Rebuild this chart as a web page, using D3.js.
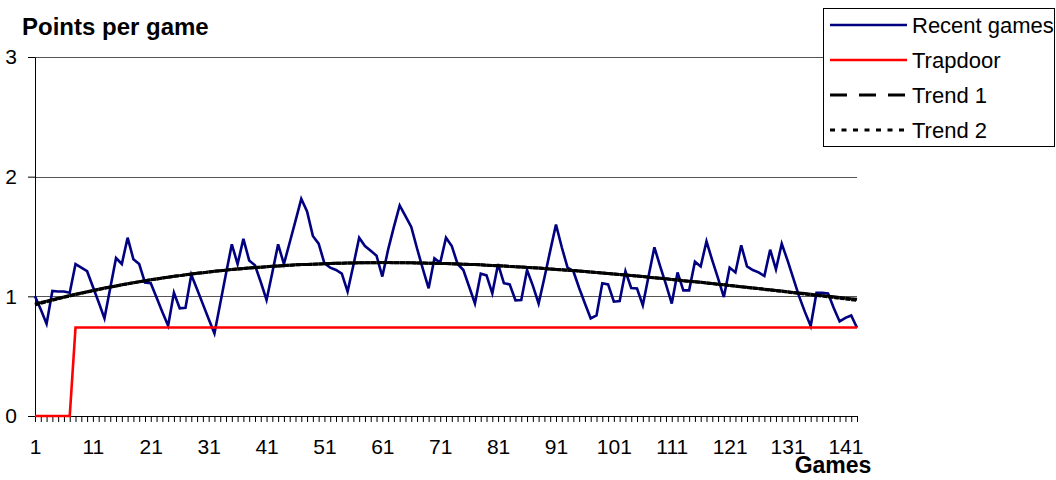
<!DOCTYPE html>
<html>
<head>
<meta charset="utf-8">
<script src="https://cdn.jsdelivr.net/npm/d3@7"></script>
<style>
  body { margin: 0; background: #fff; }
</style>
</head>
<body>
<div id="chart"></div>
<script>
// points per game, one value per game
var recentGames = [
  1.00, 0.89, 0.77, 1.045, 1.04, 1.04, 1.03, 1.27, 1.24, 1.21,
  1.08, 0.95, 0.816, 1.07, 1.32, 1.27, 1.49, 1.31, 1.27, 1.115,
  1.11, 0.99, 0.87, 0.755, 1.03, 0.90, 0.905, 1.18, 1.06, 0.935,
  0.81, 0.69, 0.94, 1.19, 1.435, 1.27, 1.48, 1.30, 1.26, 1.12,
  0.97, 1.20, 1.435, 1.27, 1.45, 1.63, 1.815, 1.71, 1.505, 1.44,
  1.276, 1.24, 1.22, 1.19, 1.04, 1.26, 1.49, 1.42, 1.38, 1.34,
  1.165, 1.39, 1.58, 1.76, 1.67, 1.58, 1.40, 1.23, 1.067, 1.318,
  1.28, 1.49, 1.42, 1.27, 1.22, 1.08, 0.94, 1.19, 1.175, 1.025,
  1.27, 1.11, 1.10, 0.967, 0.97, 1.22, 1.09, 0.94, 1.155, 1.38,
  1.60, 1.41, 1.24, 1.21, 1.07, 0.94, 0.816, 0.84, 1.11, 1.10,
  0.955, 0.96, 1.21, 1.07, 1.065, 0.925, 1.17, 1.41, 1.25, 1.10,
  0.94, 1.20, 1.05, 1.05, 1.29, 1.25, 1.46, 1.30, 1.15, 0.994,
  1.24, 1.20, 1.427, 1.25, 1.22, 1.20, 1.17, 1.39, 1.226, 1.44,
  1.30, 1.15, 1.00, 0.87, 0.752, 1.03, 1.03, 1.025, 0.90, 0.79,
  0.82, 0.84, 0.737
];

var trapdoor = [
  0, 0, 0, 0, 0, 0, 0, 0.74, 0.74, 0.74,
  0.74, 0.74, 0.74, 0.74, 0.74, 0.74, 0.74, 0.74, 0.74, 0.74,
  0.74, 0.74, 0.74, 0.74, 0.74, 0.74, 0.74, 0.74, 0.74, 0.74,
  0.74, 0.74, 0.74, 0.74, 0.74, 0.74, 0.74, 0.74, 0.74, 0.74,
  0.74, 0.74, 0.74, 0.74, 0.74, 0.74, 0.74, 0.74, 0.74, 0.74,
  0.74, 0.74, 0.74, 0.74, 0.74, 0.74, 0.74, 0.74, 0.74, 0.74,
  0.74, 0.74, 0.74, 0.74, 0.74, 0.74, 0.74, 0.74, 0.74, 0.74,
  0.74, 0.74, 0.74, 0.74, 0.74, 0.74, 0.74, 0.74, 0.74, 0.74,
  0.74, 0.74, 0.74, 0.74, 0.74, 0.74, 0.74, 0.74, 0.74, 0.74,
  0.74, 0.74, 0.74, 0.74, 0.74, 0.74, 0.74, 0.74, 0.74, 0.74,
  0.74, 0.74, 0.74, 0.74, 0.74, 0.74, 0.74, 0.74, 0.74, 0.74,
  0.74, 0.74, 0.74, 0.74, 0.74, 0.74, 0.74, 0.74, 0.74, 0.74,
  0.74, 0.74, 0.74, 0.74, 0.74, 0.74, 0.74, 0.74, 0.74, 0.74,
  0.74, 0.74, 0.74, 0.74, 0.74, 0.74, 0.74, 0.74, 0.74, 0.74,
  0.74, 0.74, 0.74
];

var trend1 = [
  0.935, 0.948, 0.960, 0.972, 0.984, 0.995, 1.007, 1.018, 1.028, 1.039,
  1.049, 1.059, 1.069, 1.078, 1.087, 1.096, 1.105, 1.114, 1.122, 1.130,
  1.138, 1.145, 1.153, 1.160, 1.167, 1.173, 1.180, 1.186, 1.192, 1.198,
  1.203, 1.209, 1.214, 1.219, 1.224, 1.228, 1.232, 1.237, 1.240, 1.244,
  1.248, 1.251, 1.254, 1.257, 1.260, 1.263, 1.265, 1.267, 1.269, 1.271,
  1.273, 1.275, 1.276, 1.277, 1.278, 1.279, 1.280, 1.281, 1.281, 1.281,
  1.282, 1.282, 1.281, 1.281, 1.281, 1.280, 1.279, 1.278, 1.277, 1.276,
  1.275, 1.274, 1.272, 1.270, 1.269, 1.267, 1.265, 1.263, 1.260, 1.258,
  1.256, 1.253, 1.250, 1.248, 1.245, 1.242, 1.239, 1.236, 1.232, 1.229,
  1.225, 1.222, 1.218, 1.215, 1.211, 1.207, 1.203, 1.199, 1.195, 1.191,
  1.187, 1.182, 1.178, 1.174, 1.169, 1.165, 1.160, 1.155, 1.151, 1.146,
  1.141, 1.136, 1.131, 1.126, 1.122, 1.117, 1.112, 1.107, 1.101, 1.096,
  1.091, 1.086, 1.081, 1.075, 1.070, 1.065, 1.060, 1.055, 1.049, 1.044,
  1.039, 1.033, 1.028, 1.023, 1.017, 1.012, 1.007, 1.001, 0.996, 0.991,
  0.985, 0.980, 0.975
];

var trend2 = [
  0.928, 0.942, 0.955, 0.967, 0.979, 0.991, 1.003, 1.015, 1.025, 1.036,
  1.047, 1.057, 1.067, 1.077, 1.086, 1.096, 1.105, 1.114, 1.122, 1.130,
  1.138, 1.145, 1.153, 1.160, 1.167, 1.173, 1.180, 1.186, 1.192, 1.198,
  1.203, 1.209, 1.214, 1.219, 1.224, 1.228, 1.232, 1.237, 1.240, 1.244,
  1.248, 1.251, 1.254, 1.257, 1.260, 1.263, 1.265, 1.267, 1.269, 1.271,
  1.273, 1.275, 1.276, 1.277, 1.278, 1.279, 1.280, 1.281, 1.281, 1.281,
  1.282, 1.282, 1.281, 1.281, 1.281, 1.280, 1.279, 1.278, 1.277, 1.276,
  1.275, 1.274, 1.272, 1.270, 1.269, 1.267, 1.265, 1.263, 1.260, 1.258,
  1.256, 1.253, 1.250, 1.248, 1.245, 1.242, 1.239, 1.236, 1.232, 1.229,
  1.225, 1.222, 1.218, 1.215, 1.211, 1.207, 1.203, 1.199, 1.195, 1.191,
  1.187, 1.182, 1.178, 1.174, 1.169, 1.165, 1.160, 1.155, 1.151, 1.146,
  1.141, 1.136, 1.131, 1.126, 1.122, 1.117, 1.112, 1.107, 1.101, 1.096,
  1.090, 1.085, 1.080, 1.074, 1.069, 1.064, 1.058, 1.053, 1.047, 1.042,
  1.036, 1.030, 1.025, 1.019, 1.013, 1.007, 1.002, 0.996, 0.990, 0.984,
  0.978, 0.972, 0.966
];

var games = d3.range(1, recentGames.length + 1);
var xTickLabels = [1, 11, 21, 31, 41, 51, 61, 71, 81, 91, 101, 111, 121, 131, 141];
var yTicks = [0, 1, 2, 3];
var seriesNames = ["Recent games", "Trapdoor", "Trend 1", "Trend 2"];

var font = "'Liberation Sans', Arial, sans-serif";

var svg = d3.select('#chart').append('svg')
  .attr('width', 1056)
  .attr('height', 480)
  .attr('font-family', font);

var x = d3.scaleLinear()
  .domain([1, games.length])
  .range([35, 857]);

var y = d3.scaleLinear()
  .domain([0, 3])
  .range([416, 57]);

// gridlines
svg.append("g")
  .selectAll("line")
  .data(yTicks.slice(1))
  .join("line")
  .attr("x1", x(1))
  .attr("x2", x(games.length))
  .attr("y1", d => Math.round(y(d)) + 0.5)
  .attr("y2", d => Math.round(y(d)) + 0.5)
  .attr("stroke", "#555")
  .attr("stroke-width", 1);

// axes
var xAxis = g => g
  .attr("transform", `translate(0,${y(0)})`)
  .call(d3.axisBottom(x)
    .tickValues(games)
    .tickSize(6)
    .tickSizeOuter(0)
    .tickPadding(17)
    .tickFormat(d => xTickLabels.includes(d) ? d : ""))
  .call(g => g.selectAll("line").attr("stroke", "#000"))
  .call(g => g.select(".domain").attr("stroke", "#000"))
  .call(g => g.selectAll(".tick text")
    .attr("fill", "#000")
    .attr("font-family", font)
    .attr("font-size", "21px"));

var yAxis = g => g
  .attr("transform", `translate(${x(1)},0)`)
  .call(d3.axisLeft(y)
    .tickValues(yTicks)
    .tickSize(7)
    .tickSizeOuter(0)
    .tickPadding(11)
    .tickFormat(d3.format("d")))
  .call(g => g.selectAll("line").attr("stroke", "#000"))
  .call(g => g.select(".domain").attr("stroke", "#000"))
  .call(g => g.selectAll(".tick text")
    .attr("fill", "#000")
    .attr("font-family", font)
    .attr("font-size", "21px"));

svg.append("g").call(xAxis);
svg.append("g").call(yAxis);

// series
var line = d3.line()
  .x((d, i) => x(games[i]))
  .y(d => y(d));

svg.append("path")
  .datum(recentGames)
  .attr("fill", "none")
  .attr("stroke", "#000080")
  .attr("stroke-width", 2.6)
  .attr("d", line);

svg.append("path")
  .datum(trapdoor)
  .attr("fill", "none")
  .attr("stroke", "#ff0000")
  .attr("stroke-width", 2.6)
  .attr("d", line);

// trend lines: the dash pattern restarts on every segment, as in the original
function drawTrend(values, dash) {
  var pts = values.map((v, i) => [games[i], v]);
  svg.append("g")
    .selectAll("line")
    .data(d3.pairs(pts))
    .join("line")
    .attr("x1", d => x(d[0][0]))
    .attr("y1", d => y(d[0][1]))
    .attr("x2", d => x(d[1][0]))
    .attr("y2", d => y(d[1][1]))
    .attr("stroke", "#000")
    .attr("stroke-width", 3)
    .attr("stroke-dasharray", dash);
}
drawTrend(trend1, "17,12");
drawTrend(trend2, "5,6.5");

// titles
svg.append("text")
  .attr("x", 22)
  .attr("y", 35)
  .attr("font-size", "24px")
  .attr("font-weight", "700")
  .attr("fill", "#000")
  .text("Points per game");

svg.append("text")
  .attr("x", 833)
  .attr("y", 473)
  .attr("text-anchor", "middle")
  .attr("font-size", "23px")
  .attr("font-weight", "700")
  .attr("fill", "#000")
  .text("Games");

// legend
var legend = svg.append("g");

legend.append("rect")
  .attr("x", 823.5)
  .attr("y", 8.5)
  .attr("width", 231)
  .attr("height", 138)
  .attr("fill", "#fff")
  .attr("stroke", "#000")
  .attr("stroke-width", 1);

var legendStyles = [
  { color: "#000080", width: 2.6, dash: null },
  { color: "#ff0000", width: 2.6, dash: null },
  { color: "#000", width: 3, dash: "17,12" },
  { color: "#000", width: 3, dash: "5,6.5" }
];
var legendY = d3.scalePoint()
  .domain(seriesNames)
  .range([25, 130]);

var item = legend.selectAll("g.item")
  .data(seriesNames)
  .join("g")
  .attr("class", "item")
  .attr("transform", d => `translate(0,${legendY(d)})`);

item.append("line")
  .attr("x1", 830)
  .attr("x2", 907)
  .attr("stroke", (d, i) => legendStyles[i].color)
  .attr("stroke-width", (d, i) => legendStyles[i].width)
  .attr("stroke-dasharray", (d, i) => legendStyles[i].dash);

item.append("text")
  .attr("x", 912)
  .attr("dy", "0.36em")
  .attr("font-size", "22px")
  .attr("fill", "#000")
  .text(d => d);
</script>
</body>
</html>
